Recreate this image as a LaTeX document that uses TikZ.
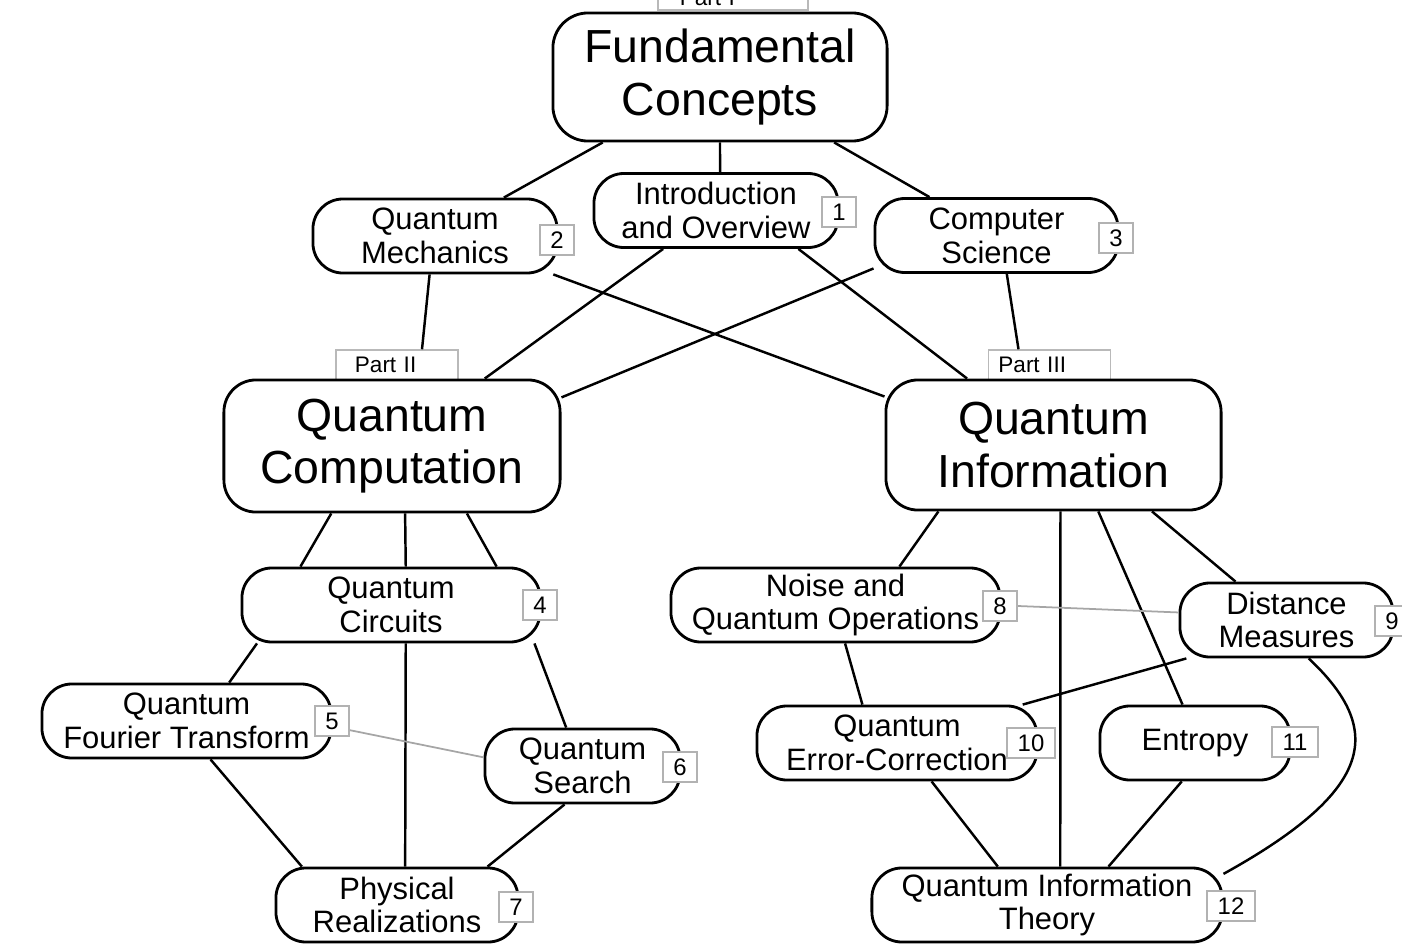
\documentclass[tikz,border=0pt]{standalone}
\usepackage{fontspec}
\setmainfont{Liberation Sans}
\usetikzlibrary{positioning, calc}

\begin{document}
\begin{tikzpicture}[
    x=0.01cm, y=-0.01cm,
    bigbox/.style={draw, line width=0.8pt, rounded corners=0.32cm, align=center,
                   inner sep=0pt, font=\fontsize{13.2}{14.8}\selectfont},
    topicbox/.style={draw, line width=0.8pt, rounded corners=0.3cm, align=center,
                     inner sep=0pt, minimum height=0.74cm,
                     font=\fontsize{8.8}{9.6}\selectfont},
    numtag/.style={draw=gray!60, line width=0.5pt, fill=white, inner xsep=3pt,
                   inner ysep=0pt, minimum width=0.33cm, minimum height=0.3cm,
                   font=\fontsize{6.8}{7}\selectfont},
    partbox/.style={draw=gray!55, line width=0.4pt, minimum height=0.3cm,
                    inner ysep=0pt, align=left, font=\fontsize{6.4}{7}\selectfont},
    link/.style={line width=0.7pt},
    xref/.style={draw=gray!70, line width=0.5pt},
  ]
  \useasboundingbox (0,0) rectangle (1402,951);
  %% Part labels (behind the big boxes)
  \node[partbox, text width=1.06cm, inner xsep=0.22cm, minimum height=0.24cm] (parti) at (733,-2) {Part I};
  \node[partbox, text width=0.84cm, inner xsep=0.19cm] (partii) at (397,365) {Part II};
  \node[partbox, text width=1.02cm, inner xsep=0.10cm] (partiii) at (1049.5,365) {Part III};
  %% Top level
  \node[bigbox, minimum width=3.34cm, minimum height=1.28cm, rounded corners=0.35cm] (fc) at (720,77) {Fundamental\\Concepts};
  \node[topicbox, minimum width=2.44cm] (intro) at (716,210.5) {Introduction\\and Overview};
  \node[topicbox, minimum width=2.44cm] (qm) at (435,236) {Quantum\\Mechanics};
  \node[topicbox, minimum width=2.43cm] (cs) at (996.5,235.5) {Computer\\Science};
  %% Parts II and III
  \node[bigbox, minimum width=3.36cm, minimum height=1.32cm] (qc) at (392,446) {Quantum\\Computation};
  \node[bigbox, minimum width=3.35cm, minimum height=1.30cm] (qi) at (1053.5,445) {Quantum\\Information};
  %% Left branch
  \node[topicbox, minimum width=2.98cm] (circ) at (391,605) {Quantum\\Circuits};
  \node[topicbox, minimum width=2.89cm] (qft) at (186.5,721) {Quantum\\Fourier Transform};
  \node[topicbox, minimum width=1.95cm] (search) at (582.5,766) {Quantum\\Search};
  \node[topicbox, minimum width=2.42cm] (phys) at (397,905) {Physical\\Realizations};
  %% Right branch
  \node[topicbox, minimum width=3.29cm] (noise) at (835.5,605) {Noise and\\Quantum Operations};
  \node[topicbox, minimum width=2.13cm] (dist) at (1286.5,620) {Distance\\Measures};
  \node[topicbox, minimum width=2.80cm] (qec) at (897,743) {Quantum\\Error-Correction};
  \node[topicbox, minimum width=1.90cm] (entropy) at (1195,743) {Entropy};
  \node[topicbox, minimum width=3.50cm] (qit) at (1047,905) {Quantum Information\\Theory};
  %% Chapter numbers
  \node[numtag] (t1) at (839,212) {1};
  \node[numtag] (t2) at (557,240) {2};
  \node[numtag] (t3) at (1116,238) {3};
  \node[numtag] (t4) at (540,605) {4};
  \node[numtag] (t5) at (332,721) {5};
  \node[numtag] (t6) at (680,767) {6};
  \node[numtag] (t7) at (516,907) {7};
  \node[numtag] (t8) at (1000,606) {8};
  \node[numtag] (t9) at (1392,621) {9};
  \node[numtag] (t10) at (1031,743) {10};
  \node[numtag] (t11) at (1295,742) {11};
  \node[numtag] (t12) at (1231,906) {12};
  %% Connectors
  \draw[link] (fc) -- (qm);
  \draw[link] (fc.south) -- (intro.84);
  \draw[link] (fc) -- (cs);
  \draw[link] (qm.-98) -- ($(partii.north)+(25,0)$);
  \draw[link] (qm.-18) -- (qi.164);
  \draw[link] (intro) -- (qc);
  \draw[link] (intro.-25) -- (qi);
  \draw[link] (cs.-165) -- (qc.16.5);
  \draw[link] (cs.-75) -- ($(partiii.north)+(-31,0)$);
  \draw[link] (qc.-132) -- (circ.157);
  \draw[link] (qc.-79) -- (circ.69);
  \draw[link] (qc.-42) -- (circ.20);
  \draw[link] (circ.-164) -- (qft.42);
  \draw[link] (circ.-69) -- (phys.78);
  \draw[link] (circ.-15) -- (search.113);
  \draw[link] (qft.-58) -- (phys.158);
  \draw[link] (search.-115) -- (phys.23);
  \draw[xref] (t5.-27) -- (search.175);
  \draw[link] (qi.-150) -- (noise.31);
  \draw[link] (qi.-84) -- (qit.71);
  \draw[link] (qi.-56) -- (entropy.108);
  \draw[link] (qi.-34) -- (dist.143);
  \draw[xref] (t8.east) -- (dist.176);
  \draw[link] (noise.-76) -- (qec.132);
  \draw[link] (dist.-159) -- (qec.17);
  \draw[link] (dist.-60) .. controls (1385,730) and (1375,790) .. (qit.10);
  \draw[link] (qec.-48) -- (qit.142);
  \draw[link] (entropy.-109) -- (qit.32.5);
\end{tikzpicture}
\end{document}
